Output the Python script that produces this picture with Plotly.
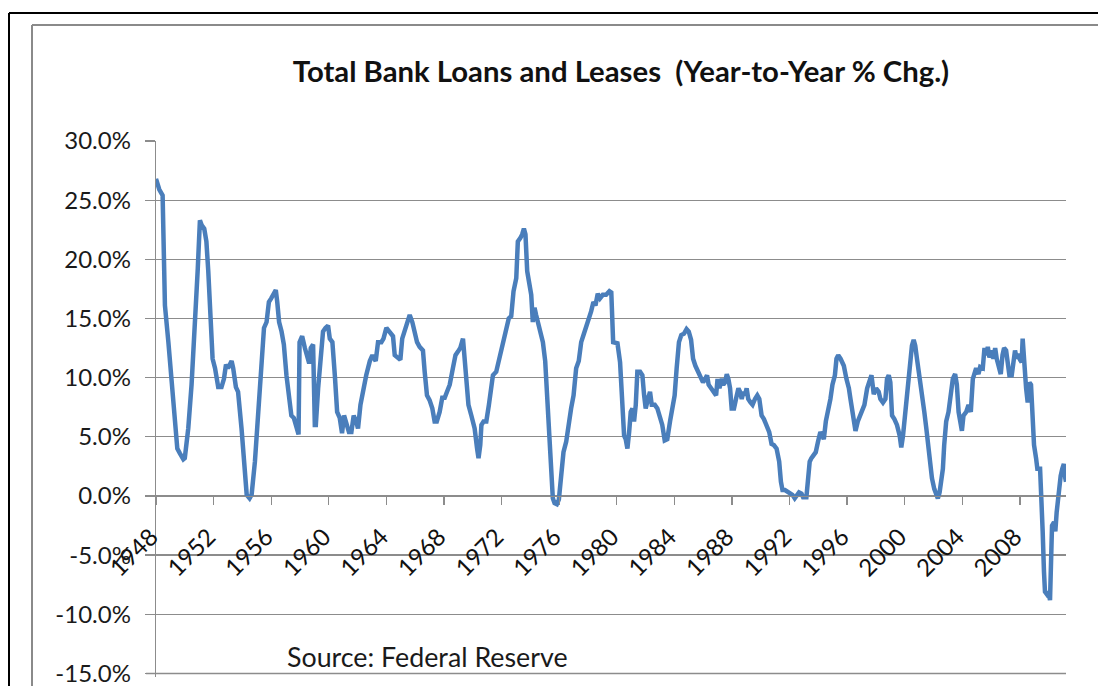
import plotly.graph_objects as go

# ---- data ----
years = [
    1948.00, 1948.23, 1948.46, 1948.50, 1948.55, 1948.62, 1948.86, 1949.09, 1949.32, 1949.48,
    1949.66, 1949.90, 1950.00, 1950.24, 1950.47, 1950.70, 1950.90, 1951.05, 1951.17, 1951.35,
    1951.50, 1951.63, 1951.75, 1951.93, 1952.10, 1952.32, 1952.55, 1952.72, 1952.86, 1953.00,
    1953.25, 1953.36, 1953.55, 1953.70, 1953.94, 1954.10, 1954.30, 1954.50, 1954.64, 1954.87,
    1955.10, 1955.33, 1955.50, 1955.68, 1955.84, 1956.00, 1956.20, 1956.32, 1956.42, 1956.55,
    1956.72, 1956.88, 1957.06, 1957.25, 1957.40, 1957.57, 1957.76, 1957.90, 1957.97, 1958.15,
    1958.34, 1958.50, 1958.64, 1958.75, 1958.91, 1959.03, 1959.10, 1959.26, 1959.45, 1959.60,
    1959.77, 1959.95, 1960.07, 1960.25, 1960.42, 1960.58, 1960.76, 1960.92, 1961.06, 1961.22,
    1961.40, 1961.57, 1961.73, 1961.90, 1962.03, 1962.20, 1962.38, 1962.60, 1962.85, 1963.03,
    1963.26, 1963.42, 1963.65, 1963.80, 1964.00, 1964.23, 1964.46, 1964.58, 1964.80, 1964.97,
    1965.10, 1965.34, 1965.62, 1965.80, 1965.97, 1966.13, 1966.31, 1966.54, 1966.66, 1966.82,
    1967.00, 1967.19, 1967.35, 1967.50, 1967.70, 1967.88, 1968.05, 1968.20, 1968.40, 1968.62,
    1968.80, 1968.97, 1969.13, 1969.32, 1969.43, 1969.55, 1969.70, 1969.90, 1970.13, 1970.30,
    1970.40, 1970.52, 1970.60, 1970.75, 1970.94, 1971.12, 1971.28, 1971.40, 1971.63, 1971.80,
    1971.98, 1972.14, 1972.32, 1972.50, 1972.67, 1972.83, 1973.02, 1973.13, 1973.30, 1973.43,
    1973.55, 1973.66, 1973.78, 1973.94, 1974.06, 1974.17, 1974.29, 1974.40, 1974.52, 1974.68,
    1974.87, 1975.03, 1975.17, 1975.33, 1975.45, 1975.56, 1975.68, 1975.84, 1975.98, 1976.14,
    1976.30, 1976.49, 1976.67, 1976.83, 1977.00, 1977.18, 1977.36, 1977.53, 1977.69, 1977.87,
    1978.06, 1978.22, 1978.38, 1978.52, 1978.68, 1978.84, 1979.03, 1979.26, 1979.49, 1979.62,
    1979.75, 1980.05, 1980.23, 1980.39, 1980.51, 1980.62, 1980.74, 1980.86, 1980.97, 1981.09,
    1981.20, 1981.32, 1981.43, 1981.62, 1981.78, 1981.90, 1982.01, 1982.17, 1982.31, 1982.43,
    1982.64, 1982.82, 1983.00, 1983.16, 1983.33, 1983.51, 1983.70, 1983.86, 1984.02, 1984.16,
    1984.32, 1984.48, 1984.66, 1984.85, 1985.00, 1985.16, 1985.30, 1985.46, 1985.62, 1985.80,
    1985.99, 1986.15, 1986.27, 1986.38, 1986.54, 1986.73, 1986.90, 1987.00, 1987.13, 1987.30,
    1987.40, 1987.52, 1987.64, 1987.75, 1987.87, 1987.98, 1988.14, 1988.28, 1988.45, 1988.56,
    1988.68, 1988.79, 1988.90, 1989.02, 1989.13, 1989.29, 1989.43, 1989.60, 1989.76, 1989.90,
    1990.06, 1990.22, 1990.40, 1990.59, 1990.75, 1990.91, 1991.10, 1991.28, 1991.40, 1991.51,
    1991.68, 1991.91, 1992.07, 1992.20, 1992.36, 1992.52, 1992.66, 1992.83, 1992.94, 1993.17,
    1993.29, 1993.40, 1993.52, 1993.68, 1993.82, 1993.98, 1994.14, 1994.29, 1994.38, 1994.52,
    1994.68, 1994.84, 1994.98, 1995.15, 1995.26, 1995.38, 1995.54, 1995.77, 1995.95, 1996.12,
    1996.23, 1996.42, 1996.58, 1996.74, 1996.88, 1997.04, 1997.20, 1997.39, 1997.57, 1997.69,
    1997.85, 1998.01, 1998.19, 1998.31, 1998.49, 1998.66, 1998.77, 1998.89, 1999.00, 1999.12,
    1999.28, 1999.46, 1999.65, 1999.76, 1999.88, 2000.04, 2000.20, 2000.39, 2000.50, 2000.62,
    2000.73, 2000.85, 2001.03, 2001.20, 2001.36, 2001.50, 2001.61, 2001.73, 2001.89, 2002.05,
    2002.19, 2002.30, 2002.42, 2002.54, 2002.65, 2002.74, 2002.88, 2003.04, 2003.20, 2003.34,
    2003.50, 2003.62, 2003.74, 2003.85, 2003.97, 2004.08, 2004.27, 2004.43, 2004.59, 2004.73,
    2004.85, 2004.96, 2005.12, 2005.24, 2005.42, 2005.54, 2005.65, 2005.77, 2005.88, 2006.05,
    2006.16, 2006.28, 2006.39, 2006.56, 2006.67, 2006.79, 2006.90, 2007.04, 2007.15, 2007.27,
    2007.43, 2007.55, 2007.66, 2007.78, 2007.89, 2008.01, 2008.12, 2008.19, 2008.29, 2008.43,
    2008.54, 2008.66, 2008.77, 2008.89, 2008.98, 2009.12, 2009.21, 2009.40, 2009.49, 2009.58,
    2009.67, 2009.74, 2009.86, 2009.97, 2010.09, 2010.16, 2010.23, 2010.37, 2010.46, 2010.55,
    2010.69, 2010.83, 2010.94, 2011.05, 2011.15, 2011.20,
]

loan_growth_pct = [
    26.8, 25.9, 25.4, 23.7, 19.8, 16.1, 13.0, 9.9, 6.6, 4.0,
    3.6, 3.1, 3.2, 5.7, 9.4, 14.2, 19.2, 23.3, 22.9, 22.6,
    21.5, 19.0, 15.9, 11.6, 10.8, 9.2, 9.2, 9.9, 11.1, 10.8,
    11.4, 10.8, 9.2, 8.8, 5.7, 2.6, 0.1, -0.2, 0.1, 2.9,
    7.1, 11.4, 14.2, 14.7, 16.4, 16.7, 17.1, 17.4, 16.4, 14.7,
    13.9, 12.8, 10.2, 8.0, 6.8, 6.6, 5.7, 5.2, 13.0, 13.5,
    12.5, 11.9, 11.2, 12.5, 12.8, 6.0, 6.0, 9.1, 11.4, 13.9,
    14.2, 14.4, 13.3, 13.0, 10.2, 7.1, 6.6, 5.3, 6.8, 6.0,
    5.4, 5.4, 6.8, 6.3, 5.7, 7.7, 9.1, 10.2, 11.4, 11.9,
    11.4, 13.0, 13.0, 13.3, 14.2, 13.9, 13.5, 11.9, 11.6, 11.5,
    13.3, 14.2, 15.3, 14.7, 13.9, 13.0, 12.6, 12.3, 10.5, 8.5,
    8.1, 7.4, 6.3, 6.3, 7.1, 8.3, 8.3, 8.8, 9.4, 10.8,
    11.9, 12.2, 12.5, 13.3, 11.4, 9.7, 7.7, 6.8, 5.7, 4.0,
    3.2, 4.3, 6.0, 6.3, 6.3, 7.7, 9.4, 10.2, 10.5, 11.4,
    12.2, 13.3, 13.9, 15.0, 15.2, 17.3, 18.4, 21.5, 21.8, 22.1,
    22.6, 22.1, 19.0, 18.1, 17.0, 14.7, 15.9, 15.3, 14.7, 14.2,
    13.0, 11.4, 8.5, 5.2, 2.3, -0.2, -0.6, -0.7, -0.3, 1.5,
    3.7, 4.6, 6.3, 7.4, 8.5, 10.8, 11.4, 13.0, 13.6, 14.2,
    15.0, 15.6, 16.4, 16.1, 17.1, 16.7, 17.0, 17.0, 17.3, 17.2,
    13.0, 12.9, 11.3, 8.5, 5.1, 4.8, 4.0, 5.4, 7.1, 7.4,
    6.3, 7.7, 10.5, 10.5, 10.2, 8.5, 7.4, 8.2, 8.8, 7.7,
    7.7, 7.4, 6.8, 6.0, 4.7, 4.8, 6.3, 7.7, 8.5, 10.8,
    13.0, 13.6, 13.7, 14.1, 13.9, 13.2, 11.6, 11.0, 10.5, 10.1,
    9.6, 9.9, 10.2, 9.4, 9.1, 8.8, 8.5, 9.9, 9.1, 9.9,
    9.4, 9.6, 10.3, 9.9, 9.1, 7.4, 7.4, 8.2, 9.1, 8.8,
    8.2, 8.8, 8.5, 9.1, 8.2, 7.9, 7.7, 8.2, 8.5, 8.2,
    6.8, 6.5, 6.0, 5.4, 4.4, 4.3, 4.0, 2.9, 1.2, 0.5,
    0.5, 0.3, 0.2, 0.1, -0.2, 0.1, 0.3, 0.2, -0.1, -0.1,
    1.5, 2.9, 3.2, 3.4, 3.7, 4.6, 5.4, 5.1, 4.8, 6.3,
    7.1, 8.2, 9.4, 10.2, 11.6, 11.9, 11.6, 11.0, 9.9, 9.1,
    8.2, 6.8, 5.5, 6.3, 6.8, 7.1, 7.7, 9.1, 9.9, 10.2,
    8.6, 9.1, 8.8, 8.2, 7.9, 8.2, 9.9, 10.2, 9.6, 6.8,
    6.5, 6.0, 5.1, 4.1, 5.1, 7.1, 9.4, 11.6, 12.7, 13.2,
    12.7, 11.6, 10.2, 8.8, 7.1, 5.7, 4.3, 2.6, 1.5, 0.6,
    0.2, -0.2, 0.3, 1.7, 2.3, 4.3, 6.3, 7.1, 8.5, 9.9,
    10.3, 9.4, 7.1, 6.0, 5.5, 6.8, 7.1, 7.7, 7.1, 9.9,
    10.5, 10.8, 10.3, 10.9, 10.8, 12.5, 11.9, 12.6, 11.7, 12.3,
    11.6, 12.5, 11.6, 10.8, 10.3, 11.9, 12.5, 12.3, 10.8, 10.2,
    10.2, 11.3, 12.3, 11.6, 12.0, 11.5, 11.3, 13.3, 11.0, 9.1,
    7.9, 9.6, 9.4, 6.5, 4.3, 3.2, 2.3, 2.3, 0.1, -3.0,
    -6.4, -8.1, -8.3, -8.1, -8.8, -5.9, -2.5, -2.2, -3.0, -1.4,
    0.6, 1.7, 2.3, 2.7, 1.5, 1.2,
]

x_tick_years = [1948, 1952, 1956, 1960, 1964, 1968, 1972, 1976, 1980,
                1984, 1988, 1992, 1996, 2000, 2004, 2008]
x_tick_labels = [str(y) for y in x_tick_years]
y_tick_values = [-15, -10, -5, 0, 5, 10, 15, 20, 25, 30]
y_tick_labels = ["-15.0%", "-10.0%", "-5.0%", "0.0%", "5.0%", "10.0%",
                 "15.0%", "20.0%", "25.0%", "30.0%"]

title_text = "Total Bank Loans and Leases \u00a0(Year-to-Year % Chg.)"
source_text = "Source: Federal Reserve"

# ---- styling ----
FONT = "Lato, 'Open Sans', sans-serif"
GRID = "#8c8c8c"
LINE = "#4a7ebb"
W, H = 1098, 686
Y_RANGE = [-15.3, 30.0]
PX_PER_UNIT = (673.3 - 141.0) / 45.0
L, R, T = 156, 32, 141
B = H - (673.3 + 0.3 * PX_PER_UNIT)
pw, ph = W - L - R, H - T - B


def px_x(p):
    return (p - L) / pw


def px_y(p):
    return (H - B - p) / ph


def y_to_paper(v):
    # position of a y value on the paper, from the y axis range
    return (v - Y_RANGE[0]) / (Y_RANGE[1] - Y_RANGE[0])


fig = go.Figure()
fig.add_trace(go.Scatter(
    x=years, y=loan_growth_pct, mode="lines",
    line=dict(color=LINE, width=4.5),
    hoverinfo="skip", showlegend=False,
))

frame_shapes = [
    # outer black frame (left + top)
    dict(type="line", xref="paper", yref="paper",
         x0=px_x(9), x1=px_x(9), y0=px_y(700), y1=px_y(13),
         line=dict(color="black", width=2)),
    dict(type="line", xref="paper", yref="paper",
         x0=px_x(9), x1=px_x(1110), y0=px_y(13), y1=px_y(13),
         line=dict(color="black", width=2)),
    # inner gray frame (left + top)
    dict(type="line", xref="paper", yref="paper",
         x0=px_x(32), x1=px_x(32), y0=px_y(700), y1=px_y(25),
         line=dict(color="#8a8a8a", width=2)),
    dict(type="line", xref="paper", yref="paper",
         x0=px_x(32), x1=px_x(1110), y0=px_y(25), y1=px_y(25),
         line=dict(color="#8a8a8a", width=2)),
]
# bottom gridline + tick for the lowest y tick (unclipped paper shape)
bottom_grid = [dict(type="line", xref="paper", yref="paper", layer="above",
                    x0=px_x(146), x1=1,
                    y0=y_to_paper(y_tick_values[0]), y1=y_to_paper(y_tick_values[0]),
                    line=dict(color=GRID, width=1.5))]

fig.update_layout(
    width=W, height=H,
    margin=dict(l=L, r=R, t=T, b=B, autoexpand=False),
    paper_bgcolor="white", plot_bgcolor="white",
    font=dict(family=FONT, color="#1a1a1a"),
    title=dict(text="<b>" + title_text + "</b>", x=621 / W, xanchor="center",
               xref="container", y=1 - 72 / H, yanchor="middle",
               font=dict(size=29.3, color="#111111", family=FONT)),
    showlegend=False,
    xaxis=dict(
        range=[1948, 2011.2], anchor="free",
        position=y_to_paper(0),
        automargin=False,
        showgrid=False, zeroline=False,
        showline=True, linecolor=GRID, linewidth=1.3,
        ticks="outside", ticklen=8, tickwidth=1.3, tickcolor=GRID,
        tickvals=x_tick_years, ticktext=x_tick_labels, tickangle=-45,
        tickfont=dict(size=24, color="#111111"),
        ticklabelstandoff=8, ticklabelshift=-5,
        ticklabeloverflow="allow",
    ),
    yaxis=dict(
        range=Y_RANGE, domain=[0, 1],
        automargin=False,
        showgrid=True, gridcolor=GRID, gridwidth=1.3,
        zeroline=False,
        showline=True, linecolor=GRID, linewidth=1.3,
        ticks="outside", ticklen=10, tickwidth=1.3, tickcolor=GRID,
        tickvals=y_tick_values, ticktext=y_tick_labels,
        tickfont=dict(size=24, color="#1a1a1a"),
        ticklabelstandoff=9,
        ticklabeloverflow="allow",
    ),
    shapes=frame_shapes + bottom_grid,
    annotations=[
        dict(text=source_text, xref="paper", yref="paper",
             x=px_x(285), y=px_y(657), xanchor="left", yanchor="middle",
             showarrow=False, font=dict(size=26.8, color="#1a1a1a", family=FONT)),
    ],
)

fig.write_html("out.html",
               config={"displayModeBar": False, "staticPlot": True},
               post_script="document.body.style.margin='0';"
                           "document.body.style.overflow='hidden';")
